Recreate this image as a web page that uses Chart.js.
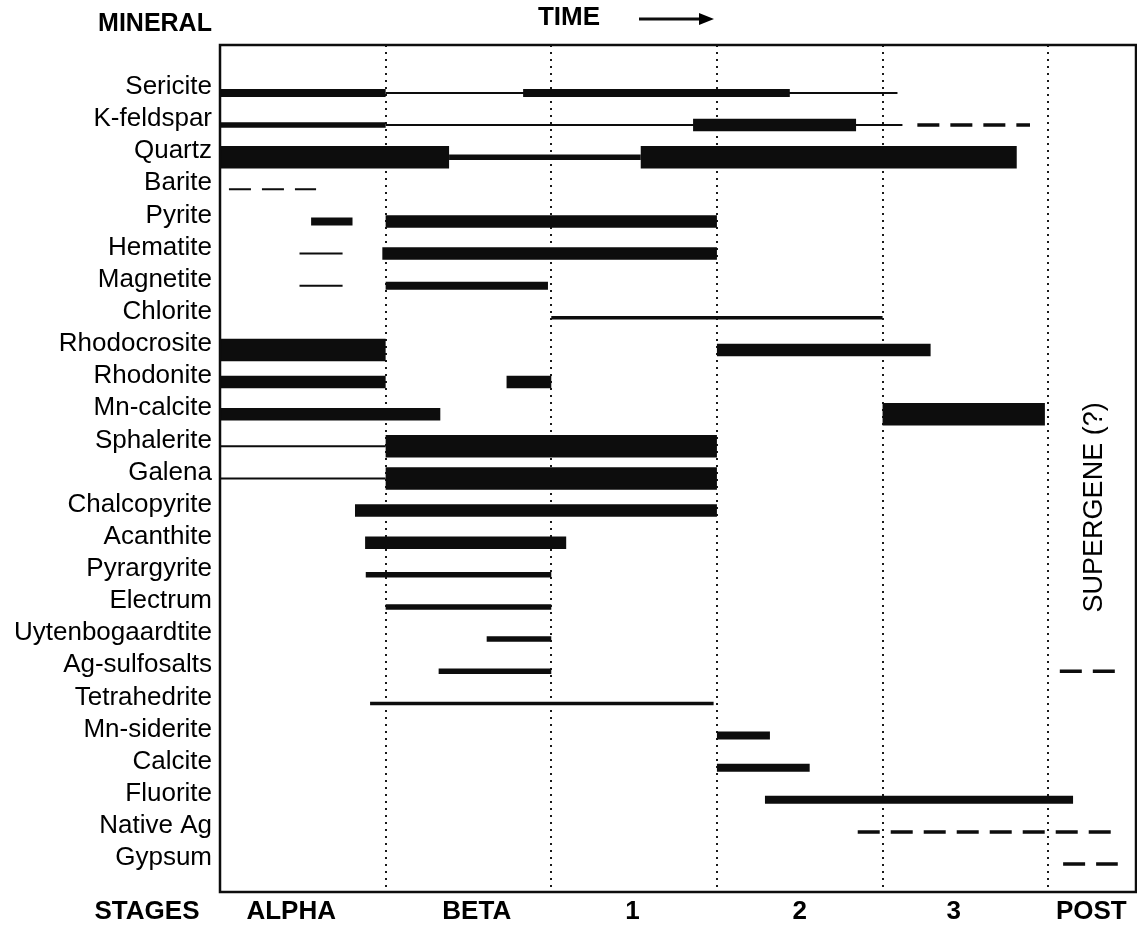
<!DOCTYPE html>
<html><head><meta charset="utf-8">
<script src="https://cdn.jsdelivr.net/npm/chart.js@4.4.1/dist/chart.umd.min.js"></script>
<style>html,body{margin:0;padding:0;background:#fff;overflow:hidden;}</style>
</head><body>
<canvas id="c" width="1137" height="930"></canvas>
<script>
// ---- data ----
const minerals = ['Sericite','K-feldspar','Quartz','Barite','Pyrite','Hematite','Magnetite','Chlorite',
  'Rhodocrosite','Rhodonite','Mn-calcite','Sphalerite','Galena','Chalcopyrite','Acanthite','Pyrargyrite',
  'Electrum','Uytenbogaardtite','Ag-sulfosalts','Tetrahedrite','Mn-siderite','Calcite','Fluorite','Native Ag','Gypsum'];

// time in stage units (stage boundaries at 1..5)
const segMineral = ['Sericite','Sericite','Sericite',
  'K-feldspar','K-feldspar','K-feldspar','K-feldspar',
  'Quartz','Quartz','Quartz',
  'Barite',
  'Pyrite','Pyrite',
  'Hematite','Hematite',
  'Magnetite','Magnetite',
  'Chlorite',
  'Rhodocrosite','Rhodocrosite',
  'Rhodonite','Rhodonite',
  'Mn-calcite','Mn-calcite',
  'Sphalerite','Sphalerite',
  'Galena','Galena',
  'Chalcopyrite','Acanthite','Pyrargyrite','Electrum','Uytenbogaardtite',
  'Ag-sulfosalts','Ag-sulfosalts',
  'Tetrahedrite','Mn-siderite','Calcite','Fluorite','Native Ag','Gypsum'];
const segStart = [0, 1, 1.83,
  0, 1, 2.856, 4.21,
  0, 1.383, 2.54,
  0.054,
  0.55, 1,
  0.48, 0.98,
  0.48, 1,
  2,
  0, 3,
  0, 1.73,
  0, 4,
  0, 1,
  0, 1,
  0.815, 0.876, 0.88, 1, 1.61,
  1.32, 5.07,
  0.906, 3, 3, 3.29, 3.85, 5.09];
const segEnd = [1, 4.09, 3.44,
  1, 4.12, 3.84, 4.89,
  1.383, 2.54, 4.81,
  0.58,
  0.80, 3,
  0.74, 3,
  0.74, 1.98,
  4,
  1, 4.29,
  1, 2,
  1.33, 4.98,
  1, 3,
  1, 3,
  3, 2.09, 2, 2, 2,
  2, 5.42,
  2.98, 3.32, 3.56, 5.15, 5.43, 5.42];
// relative abundance class 1 (trace) .. 6 (abundant)
const segLevel = [4, 1, 4,
  3, 1, 5, 2,
  6, 3, 6,
  1,
  4, 5,
  1, 5,
  1, 4,
  2,
  6, 5,
  5, 5,
  5, 6,
  1, 6,
  1, 6,
  5, 5, 3, 3, 3,
  3, 2,
  2, 4, 4, 4, 2, 2];
// uncertain occurrence (drawn dashed)
const segDashed = [0,0,0, 0,0,0,1, 0,0,0, 1, 0,0, 0,0, 0,0, 0, 0,0, 0,0, 0,0, 0,0, 0,0,
  0,0,0,0,0, 0,1, 0,0,0,0,1,1];

const stageNames = ['ALPHA','BETA','1','2','3','POST'];
const stageLabelAt = [0.43, 1.55, 2.49, 3.50, 4.43, 5.26];
const stageBounds = [1, 2, 3, 4, 5];

// ---- styles ----
const levelWidth = [0, 2, 3.5, 5.5, 8, 12.5, 22.5];
const INK = '#0d0d0d';
const FONT = "'Liberation Sans', Arial, Helvetica, sans-serif";

const datasets = segMineral.map((m, i) => {
  const row = minerals.indexOf(m);
  return {
    data: [{x: segStart[i], y: row}, {x: segEnd[i], y: row}],
    showLine: true,
    borderColor: INK,
    backgroundColor: INK,
    borderWidth: levelWidth[segLevel[i]],
    borderCapStyle: 'butt',
    borderDash: segDashed[i] ? [22, 11] : [],
    pointRadius: 0,
    pointHoverRadius: 0
  };
});

const decor = {
  id: 'decor',
  afterDraw(chart) {
    const {ctx, chartArea: a, scales} = chart;
    ctx.save();
    ctx.strokeStyle = INK;
    ctx.lineWidth = 2.5;
    ctx.strokeRect(a.left, a.top, a.right - a.left, a.bottom - a.top);
    ctx.fillStyle = '#000';
    ctx.textBaseline = 'middle';
    ctx.textAlign = 'center';
    ctx.font = 'bold 25px ' + FONT;
    ctx.fillText('MINERAL', 155, 24);
    ctx.font = 'bold 26px ' + FONT;
    ctx.fillText('TIME', 569, 18);
    ctx.fillText('STAGES', 147, 912);
    // arrow
    ctx.lineWidth = 3;
    ctx.beginPath(); ctx.moveTo(639, 19); ctx.lineTo(703, 19); ctx.stroke();
    ctx.beginPath(); ctx.moveTo(714, 19); ctx.lineTo(699, 13); ctx.lineTo(699, 25); ctx.closePath(); ctx.fill();
    // supergene
    const sx = scales.x.getPixelForValue(stageLabelAt[5]) + 3;
    const sy = scales.y.getPixelForValue(12.9);
    ctx.translate(sx, sy);
    ctx.rotate(-Math.PI / 2);
    ctx.font = '27px ' + FONT;
    ctx.fillText('SUPERGENE (?)', 0, 0);
    ctx.restore();
  }
};

new Chart(document.getElementById('c'), {
  type: 'scatter',
  data: {datasets},
  options: {
    responsive: false,
    animation: false,
    devicePixelRatio: 1,
    layout: {padding: {top: 45, right: 1, bottom: 0, left: 0}},
    plugins: {legend: {display: false}, tooltip: {enabled: false}},
    events: [],
    scales: {
      x: {
        type: 'linear', position: 'bottom', min: 0, max: 5.53,
        afterFit(s) { s.height = 38; },
        afterBuildTicks(s) { s.ticks = stageBounds.concat(stageLabelAt).map(v => ({value: v})); },
        grid: {
          drawTicks: false,
          lineWidth: 2,
          color(c) { return c.tick && stageBounds.includes(c.tick.value) ? '#1a1a1a' : 'rgba(0,0,0,0)'; }
        },
        border: {display: false, dash: [2, 5]},
        ticks: {
          autoSkip: false, maxRotation: 0, minRotation: 0, padding: 4, color: '#000',
          font: {family: FONT, size: 26, weight: 'bold'},
          callback(v) { const i = stageLabelAt.indexOf(v); return i >= 0 ? stageNames[i] : ''; }
        }
      },
      y: {
        type: 'linear', position: 'left', reverse: true, min: -1.49, max: 24.87,
        afterFit(s) { s.width = 220; },
        afterBuildTicks(s) { s.ticks = minerals.map((m, i) => ({value: i})); },
        grid: {display: false, drawTicks: false},
        border: {display: false},
        ticks: {
          autoSkip: false, padding: 8, labelOffset: -6, color: '#000',
          font: {family: FONT, size: 26},
          callback(v) { return minerals[v]; }
        }
      }
    }
  },
  plugins: [decor]
});
</script>
</body></html>
